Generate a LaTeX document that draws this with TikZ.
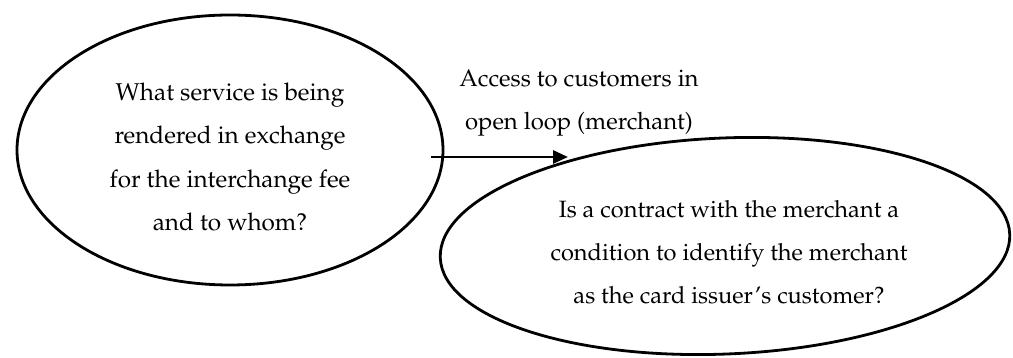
\documentclass[tikz,border=0pt]{standalone}
\usepackage[T1]{fontenc}
\usepackage{mathpazo}
\usetikzlibrary{shapes.geometric,arrows.meta}
\tikzset{
  bubble/.style={draw, ellipse, line width=2.8pt, inner sep=0pt, outer sep=0pt},
  txt/.style={align=center, inner sep=0pt, font=\fontsize{24.3}{43.5}\selectfont},
  conn/.style={line width=2.8pt, -{Triangle[length=15pt,width=13pt]}}
}
\begin{document}
\begin{tikzpicture}[x=1pt,y=1pt]
\useasboundingbox (0,0) rectangle (1013,358);
\node[bubble, minimum width=426pt, minimum height=270pt] (q1) at (230,208) {};
\node[txt] (t1) at (230,201) {What service is being\\rendered in exchange\\for the interchange fee\\and to whom?};
\node[bubble, minimum width=570pt, minimum height=216pt, rotate=2.4] (q2) at (725,112) {};
\node[txt, font=\fontsize{23.6}{43}\selectfont] (t2) at (729,106) {Is a contract with the merchant a\\condition to identify the merchant\\as the card issuer's customer?};
\node[txt, font=\fontsize{23.9}{43}\selectfont] (lab) at (579,254.5) {Access to customers in\\open loop (merchant)};
\coordinate (a0) at (431,201);
\coordinate (a1) at (568,201);
\draw[conn] (a0) -- (a1);
\end{tikzpicture}
\end{document}
